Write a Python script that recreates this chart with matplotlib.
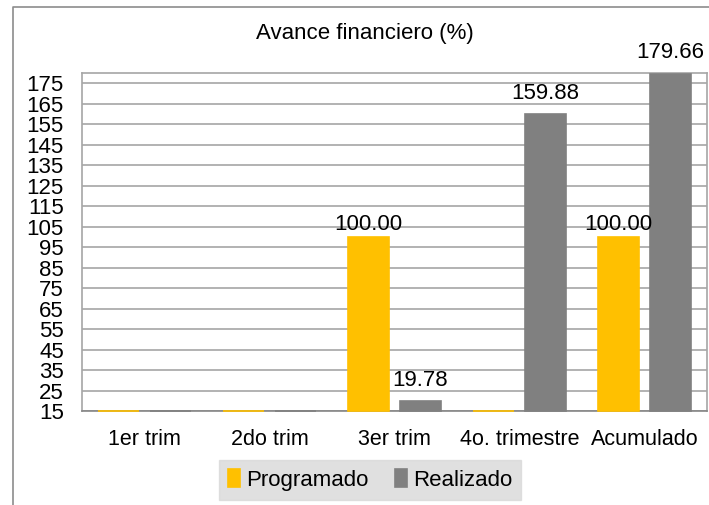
import numpy as np
import matplotlib.pyplot as plt
from matplotlib.lines import Line2D

plt.rcParams['font.family'] = ['Liberation Sans', 'DejaVu Sans']

categories = ['1er trim', '2do trim', '3er trim', '4o. trimestre', 'Acumulado']
programado = [0, 0, 100.00, 0, 100.00]
realizado = [0, 0, 19.78, 159.88, 179.66]
yticks = list(range(15, 176, 10))

fig = plt.figure(figsize=(7.09, 5.05), dpi=100)
ax = fig.add_axes([82 / 709, 1 - 411 / 505, 625 / 709, 338 / 505])

base = 15
x = np.arange(len(categories))
w = 0.33
off = 0.208
prog_h = np.maximum(np.array(programado) - base, 0)
real_h = np.maximum(np.array(realizado) - base, 0)
ax.bar(x - off, prog_h, w, bottom=base, color='#FFC000', edgecolor='#FFC000',
       linewidth=1.2, label='Programado', clip_on=False, zorder=3)
ax.bar(x + off, real_h, w, bottom=base, color='#808080', edgecolor='#808080',
       linewidth=1.2, label='Realizado', clip_on=False, zorder=3)

fs = 16
# value labels (only where there is a value)
for xi, v in zip(x, programado):
    if v > 0:
        ax.annotate(f'{v:.2f}', (xi - off, v), xytext=(0, 1.5), textcoords='offset points',
                    ha='center', va='bottom', fontsize=fs, annotation_clip=False)
for xi, v in zip(x, realizado):
    if v > 0:
        ax.annotate(f'{v:.2f}', (xi + off, v), xytext=(0, 7.5), textcoords='offset points',
                    ha='center', va='bottom', fontsize=fs, annotation_clip=False)

ax.set_xlim(-0.5, len(categories) - 0.5)
ax.set_ylim(base, 180)
ax.set_yticks(yticks)
ax.set_yticklabels([str(t) for t in yticks])
ax.set_xticks(x)
ax.set_xticklabels(categories)
ax.tick_params(axis='y', length=0, pad=13, labelsize=fs)
ax.tick_params(axis='x', length=0, pad=13, labelsize=15.5)
ax.yaxis.grid(True, color='#a6a6a6', linewidth=1.2, zorder=0)
ax.set_axisbelow(True)
for s in ax.spines.values():
    s.set_color('#a6a6a6')
    s.set_linewidth(1.2)
ax.spines['bottom'].set_color('#868686')

fig.text(365 / 709, 1 - 33 / 505, 'Avance financiero (%)', ha='center', va='center', fontsize=fs)

leg = fig.legend(loc='center', bbox_to_anchor=(370 / 709, 1 - 480 / 505), ncol=2,
                 frameon=True, fontsize=fs, handlelength=0.55, handleheight=0.85,
                 handletextpad=0.25, columnspacing=1.2, borderpad=0.4, fancybox=False)
leg.get_frame().set_facecolor('#d9d9d9')
leg.get_frame().set_edgecolor('#d9d9d9')

# outer chart frame
fig.add_artist(Line2D([13 / 709, 13 / 709, 1], [0, 1 - 7 / 505, 1 - 7 / 505],
                      transform=fig.transFigure, color='#8c8c8c', linewidth=1.2))

fig.savefig('out.png', dpi=100)
